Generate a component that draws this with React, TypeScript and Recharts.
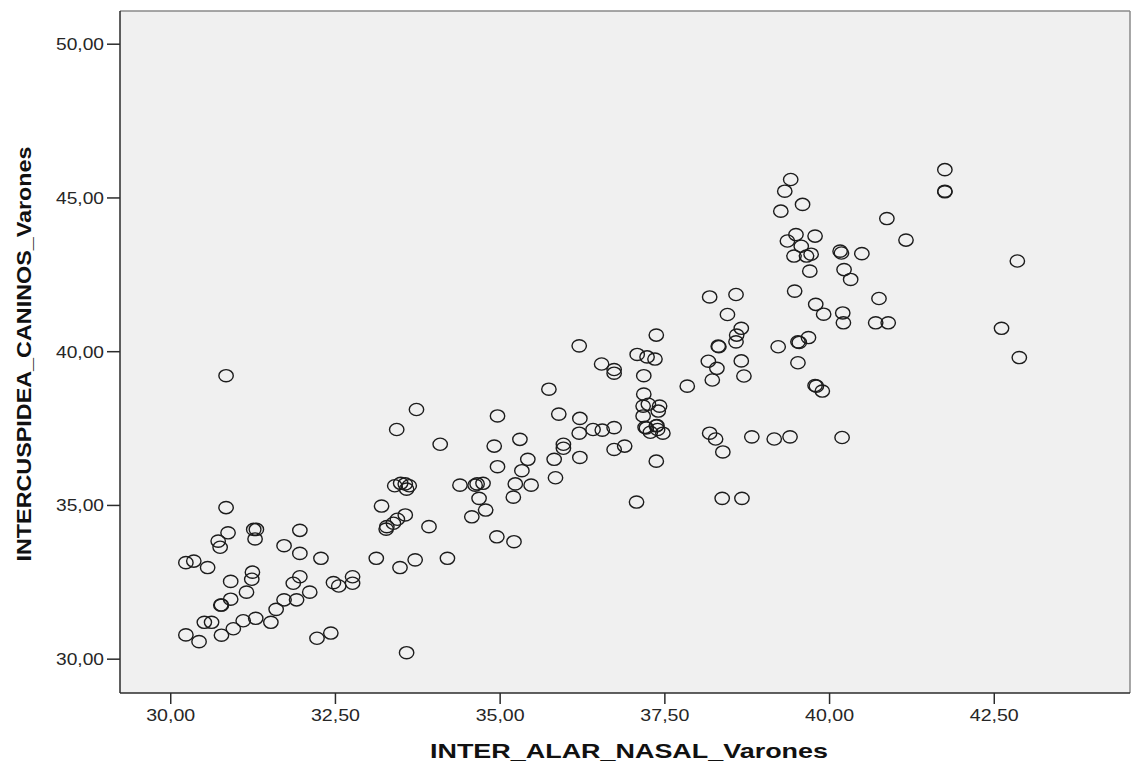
import { CartesianGrid, Label, ReferenceLine, Scatter, ScatterChart, XAxis, YAxis } from 'recharts'

// INTER_ALAR_NASAL (x) vs INTERCUSPIDEA_CANINOS (y), varones
const alarNasal = [
  30.23, 30.35, 30.56, 30.72, 30.75, 30.84, 30.87, 30.84,
  31.26, 31.30, 31.28, 31.96, 31.72, 31.96, 32.28,
  31.24, 31.23, 30.91, 31.96, 31.86, 32.47, 32.55, 32.76, 32.76,
  31.15, 32.11, 30.91, 30.77, 30.76, 31.72, 31.91, 31.60,
  30.51, 30.62, 31.10, 31.29, 30.95, 31.52,
  30.23, 30.43, 30.77, 32.22, 32.43,
  33.73, 33.43, 33.40, 33.49, 33.56, 33.62, 33.58, 33.20,
  33.56, 33.44, 33.38, 33.28, 33.27, 33.12, 33.71, 33.48, 33.58,
  33.92, 34.20, 34.09, 34.39, 34.62, 34.65, 34.74, 34.68, 34.78, 34.57,
  34.96, 34.91, 35.30, 34.96, 35.33, 35.42, 35.23, 35.47, 35.20, 34.95, 35.21,
  35.74, 35.89, 35.96, 35.96, 35.82, 35.84,
  36.20, 36.54, 36.73, 36.73, 36.21, 36.41, 36.55, 36.73, 36.20, 36.73, 36.21, 36.89,
  37.07, 37.37, 37.08, 37.23, 37.35, 37.18, 37.18, 37.17, 37.25, 37.42, 37.40, 37.17,
  37.20, 37.28, 37.37, 37.47, 37.39, 37.37, 37.22, 37.38,
  37.84, 38.16, 38.29, 38.22, 38.31, 38.32, 38.45, 38.66, 38.59, 38.58, 38.66, 38.70,
  38.18, 38.58, 38.18, 38.27, 38.38, 38.82, 38.37, 38.67,
  39.22, 39.52, 39.54, 39.68, 39.52, 39.80, 39.78, 39.89, 39.16, 39.40, 40.19,
  39.41, 39.32, 39.26, 39.59, 40.87, 41.16, 41.75, 41.75, 41.75,
  39.49, 39.36, 39.78, 39.57, 39.46, 39.65, 39.72, 40.16, 40.18, 40.49, 39.70, 40.22, 40.32,
  39.47, 40.75, 39.79, 39.91, 40.20, 40.21, 40.70, 40.89,
  42.85, 42.61, 42.88,
]

const intercuspidea = [
  33.14, 33.19, 32.98, 33.84, 33.64, 34.93, 34.11, 39.22,
  34.22, 34.22, 33.91, 34.19, 33.69, 33.44, 33.28,
  32.83, 32.60, 32.53, 32.68, 32.47, 32.49, 32.38, 32.68, 32.47,
  32.18, 32.18, 31.95, 31.76, 31.76, 31.93, 31.93, 31.62,
  31.20, 31.20, 31.25, 31.33, 30.99, 31.20,
  30.79, 30.57, 30.78, 30.68, 30.85,
  38.12, 37.47, 35.64, 35.72, 35.70, 35.64, 35.53, 34.98,
  34.69, 34.55, 34.42, 34.31, 34.23, 33.28, 33.23, 32.98, 30.21,
  34.31, 33.28, 36.99, 35.66, 35.66, 35.70, 35.72, 35.23, 34.85, 34.63,
  37.91, 36.93, 37.15, 36.26, 36.13, 36.50, 35.70, 35.66, 35.27, 33.98, 33.82,
  38.78, 37.97, 36.99, 36.86, 36.50, 35.90,
  40.19, 39.60, 39.42, 39.30, 37.83, 37.47, 37.45, 37.53, 37.35, 36.82, 36.56, 36.93,
  35.11, 40.54, 39.91, 39.83, 39.76, 39.22, 38.62, 38.23, 38.29, 38.23, 38.07, 37.91,
  37.54, 37.38, 37.59, 37.35, 37.47, 36.44, 37.52, 37.60,
  38.88, 39.69, 39.46, 39.08, 40.18, 40.16, 41.21, 40.76, 40.54, 40.32, 39.70, 39.21,
  41.78, 41.86, 37.35, 37.16, 36.74, 37.23, 35.23, 35.23,
  40.16, 40.32, 40.30, 40.46, 39.64, 38.88, 38.90, 38.72, 37.16, 37.23, 37.21,
  45.60, 45.22, 44.57, 44.79, 44.33, 43.63, 45.92, 45.20, 45.22,
  43.81, 43.60, 43.76, 43.43, 43.11, 43.11, 43.17, 43.27, 43.21, 43.19, 42.62, 42.67, 42.35,
  41.97, 41.73, 41.54, 41.22, 41.26, 40.94, 40.94, 40.94,
  42.95, 40.76, 39.81,
]

const xTicks = [30, 32.5, 35, 37.5, 40, 42.5]
const yTicks = [30, 35, 40, 45, 50]

const X_DOMAIN: [number, number] = [29.23, 44.56]
const Y_DOMAIN: [number, number] = [28.9, 51.08]

const points = alarNasal.map((x, i) => ({ x, y: intercuspidea[i] }))

const FONT = '"Liberation Sans", Arial, sans-serif'
const AXIS = '#2b2b2b'
const TEXT = '#262626'

const fmt = (v: number) => v.toFixed(2).replace('.', ',')

function YTick(props: any) {
  const { x, y, payload } = props
  return (
    <text x={x} y={y} dy={6} textAnchor='end' fontSize={16.5} fontFamily={FONT} fill={TEXT}
      textLength={48} lengthAdjust='spacingAndGlyphs'>
      {fmt(payload.value)}
    </text>
  )
}

function XTick(props: any) {
  const { x, y, payload } = props
  return (
    <text x={x} y={y} dy={14} textAnchor='middle' fontSize={16.5} fontFamily={FONT} fill={TEXT}
      textLength={49} lengthAdjust='spacingAndGlyphs'>
      {fmt(payload.value)}
    </text>
  )
}

function XTitle(props: any) {
  const vb = props.viewBox
  return (
    <text x={vb.x + vb.width / 2 + 4} y={vb.y + 65} textAnchor='middle' fontSize={21} fontWeight='bold'
      fontFamily={FONT} fill='#111' textLength={398} lengthAdjust='spacingAndGlyphs'>
      INTER_ALAR_NASAL_Varones
    </text>
  )
}

function YTitle(props: any) {
  const vb = props.viewBox
  const cx = 31
  const cy = vb.y + vb.height / 2 + 2
  return (
    <text x={cx} y={cy} transform={`rotate(-90, ${cx}, ${cy})`} textAnchor='middle' fontSize={21}
      fontWeight='bold' fontFamily={FONT} fill='#111' textLength={415} lengthAdjust='spacingAndGlyphs'>
      INTERCUSPIDEA_CANINOS_Varones
    </text>
  )
}

function Ring(props: any) {
  const { cx, cy } = props
  return <ellipse cx={cx} cy={cy} rx={7.2} ry={6.1} fill='none' stroke='#1c1c1c' strokeWidth={1.4} />
}

export default function App() {
  return (
    <div style={{ position: 'absolute', left: 0, top: 0, background: '#fff' }}>
      <ScatterChart width={1137} height={765} margin={{ top: 11, right: 7, left: 0, bottom: 0 }}>
        <CartesianGrid fill='#f0f0f0' horizontal={false} vertical={false} />
        <XAxis
          type='number'
          dataKey='x'
          domain={X_DOMAIN}
          ticks={xTicks}
          allowDataOverflow
          height={72}
          tickSize={11}
          tickMargin={3}
          tick={<XTick />}
          stroke={AXIS}
          axisLine={{ stroke: AXIS, strokeWidth: 1.5 }}
          tickLine={{ stroke: AXIS, strokeWidth: 1.5 }}
        >
          <Label content={<XTitle />} />
        </XAxis>
        <YAxis
          type='number'
          dataKey='y'
          domain={Y_DOMAIN}
          ticks={yTicks}
          allowDataOverflow
          width={120}
          tickSize={13}
          tickMargin={3}
          tick={<YTick />}
          stroke={AXIS}
          axisLine={{ stroke: AXIS, strokeWidth: 1.5 }}
          tickLine={{ stroke: AXIS, strokeWidth: 1.5 }}
        >
          <Label content={<YTitle />} />
        </YAxis>
        <ReferenceLine y={Y_DOMAIN[1]} stroke='#8a8a8a' strokeWidth={1.5} />
        <ReferenceLine x={X_DOMAIN[1]} stroke='#8a8a8a' strokeWidth={1.5} />
        <Scatter data={points} shape={<Ring />} isAnimationActive={false} />
      </ScatterChart>
    </div>
  )
}
